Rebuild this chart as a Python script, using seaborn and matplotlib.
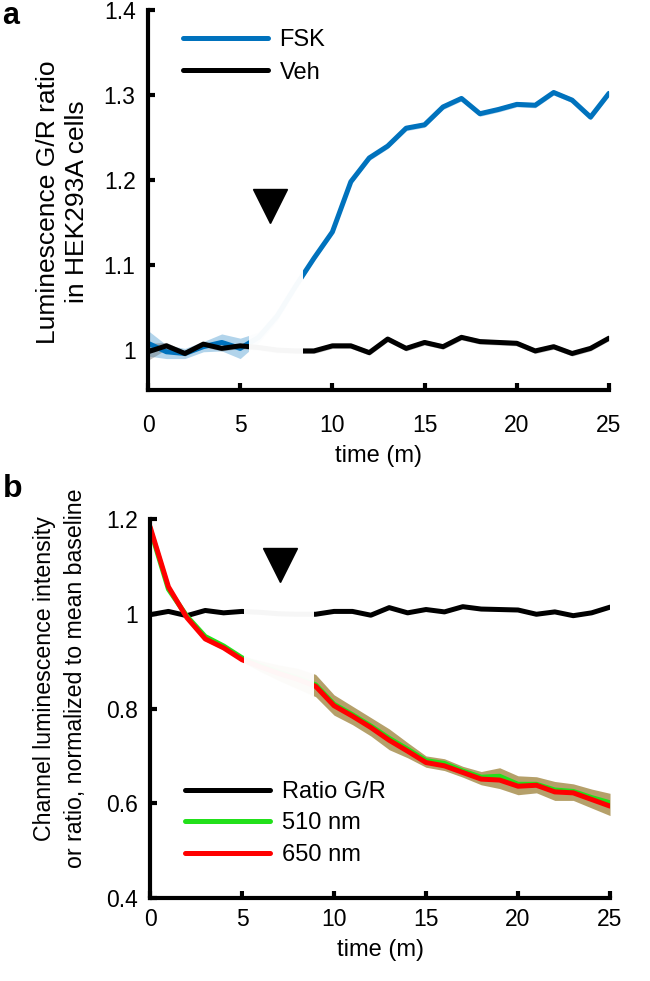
import numpy as np
import pandas as pd
import matplotlib
matplotlib.use("Agg")
import matplotlib.pyplot as plt
import seaborn as sns

# ---------------- data ----------------
time = list(range(0, 26))

fsk = [1.008, 0.998, 0.996, 1.004, 1.009, 1.002, 1.015, 1.040, 1.075, 1.108,
       1.139, 1.198, 1.226, 1.240, 1.261, 1.265, 1.286, 1.296, 1.278, 1.283,
       1.289, 1.288, 1.303, 1.294, 1.274, 1.302]
fsk_err = [0.015, 0.008, 0.006, 0.006, 0.010, 0.012, 0.006, 0.005, 0.004, 0.003,
           0.003, 0.003, 0.003, 0.003, 0.003, 0.003, 0.003, 0.003, 0.003, 0.003,
           0.003, 0.003, 0.003, 0.003, 0.003, 0.003]

veh = [0.998, 1.005, 0.996, 1.007, 1.002, 1.005, 1.003, 1.000, 0.999, 0.999,
       1.005, 1.005, 0.997, 1.013, 1.002, 1.009, 1.004, 1.015, 1.010, 1.009,
       1.008, 0.999, 1.004, 0.996, 1.002, 1.014]
veh_err = [0.010, 0.004, 0.003, 0.003, 0.003, 0.003, 0.003, 0.003, 0.003, 0.003,
           0.003, 0.003, 0.003, 0.003, 0.003, 0.003, 0.003, 0.003, 0.003, 0.003,
           0.003, 0.003, 0.003, 0.003, 0.003, 0.003]

nm510 = [1.180, 1.052, 0.995, 0.952, 0.932, 0.907, 0.891, 0.877, 0.865, 0.850,
         0.809, 0.787, 0.763, 0.737, 0.714, 0.690, 0.684, 0.668, 0.655, 0.657,
         0.640, 0.640, 0.628, 0.625, 0.612, 0.601]
nm650 = [1.184, 1.057, 0.992, 0.947, 0.928, 0.903, 0.888, 0.874, 0.862, 0.847,
         0.806, 0.784, 0.760, 0.733, 0.710, 0.686, 0.679, 0.665, 0.651, 0.649,
         0.636, 0.638, 0.624, 0.622, 0.608, 0.594]
nm_err = [0.004, 0.004, 0.004, 0.004, 0.004, 0.004, 0.010, 0.015, 0.020, 0.022,
          0.020, 0.018, 0.018, 0.020, 0.014, 0.010, 0.010, 0.010, 0.012, 0.018,
          0.018, 0.016, 0.018, 0.016, 0.018, 0.020]

gap_a = (5.5, 8.4)
gap_b = (5.1, 8.9)
stim_a = (6.6, 1.17)
stim_b = (7.07, 1.103)

xticks = [0, 5, 10, 15, 20, 25]
yticks_a = [1.0, 1.1, 1.2, 1.3, 1.4]
yticklabels_a = ["1", "1.1", "1.2", "1.3", "1.4"]
yticks_b = [0.4, 0.6, 0.8, 1.0, 1.2]
yticklabels_b = ["0.4", "0.6", "0.8", "1", "1.2"]

# ---------------- style ----------------
sns.set_style("ticks")
plt.rcParams["font.family"] = ["Liberation Sans", "DejaVu Sans"]
plt.rcParams.update({
    "axes.linewidth": 3.0,
    "axes.edgecolor": "black",
    "axes.labelcolor": "black",
    "text.color": "black",
    "xtick.color": "black",
    "ytick.color": "black",
})

C_BLUE = "#0072BD"
C_BLACK = "#000000"
C_GREEN = "#22E01A"
C_RED = "#FF0000"

fig = plt.figure(figsize=(6.5, 9.81), dpi=100)
ax_a = fig.add_axes([0.2277, 0.6024, 0.7092, 0.3874])
ax_b = fig.add_axes([0.2308, 0.0846, 0.7077, 0.3863])

# ---------------- panel a ----------------
df_a = pd.DataFrame({
    "time": time * 2,
    "value": fsk + veh,
    "cond": ["FSK"] * len(time) + ["Veh"] * len(time),
})
t = np.array(time)
ax_a.fill_between(t, np.array(fsk) - np.array(fsk_err), np.array(fsk) + np.array(fsk_err),
                  color=C_BLUE, alpha=0.3, lw=0, zorder=1)
ax_a.fill_between(t, np.array(veh) - np.array(veh_err), np.array(veh) + np.array(veh_err),
                  color="0.4", alpha=0.4, lw=0, zorder=1)
sns.lineplot(data=df_a, x="time", y="value", hue="cond", hue_order=["FSK", "Veh"],
             palette={"FSK": C_BLUE, "Veh": C_BLACK}, linewidth=3.6, ax=ax_a,
             errorbar=None, zorder=2)
ax_a.axvspan(gap_a[0], gap_a[1], color="white", alpha=0.97, lw=0, zorder=4)
ax_a.plot([stim_a[0]], [stim_a[1]], marker="v", color="black", markersize=25,
          linestyle="none", zorder=6, clip_on=False)

ax_a.set_xlim(0, 25)
ax_a.set_ylim(0.953, 1.4)
ax_a.set_xticks(xticks)
ax_a.set_xticklabels([str(x) for x in xticks])
ax_a.set_yticks(yticks_a)
ax_a.set_yticklabels(yticklabels_a)
ax_a.tick_params(axis="both", direction="in", length=5, width=3, labelsize=16.5)
ax_a.tick_params(axis="x", pad=17)
ax_a.tick_params(axis="y", pad=9)
ax_a.set_xlabel("time (m)", fontsize=17, labelpad=6)
ax_a.set_ylabel("Luminescence G/R ratio\nin HEK293A cells", fontsize=19, linespacing=1.26)
ax_a.yaxis.set_label_coords(-0.128, 0.495)
sns.despine(ax=ax_a)
for sp in ax_a.spines.values():
    sp.set_zorder(8)
h, l = ax_a.get_legend_handles_labels()
ax_a.legend(h, l, loc="upper left", bbox_to_anchor=(0.055, 0.975), frameon=False,
            fontsize=17, handlelength=3.6, handletextpad=0.5, labelspacing=0.45,
            borderaxespad=0)

# ---------------- panel b ----------------
df_b = pd.DataFrame({
    "time": time * 3,
    "value": veh + nm510 + nm650,
    "series": ["Ratio G/R"] * len(time) + ["510 nm"] * len(time) + ["650 nm"] * len(time),
})
ax_b.fill_between(t, np.array(nm650) - np.array(nm_err), np.array(nm510) + np.array(nm_err),
                  color="#A89050", alpha=0.85, lw=0, zorder=1)
sns.lineplot(data=df_b, x="time", y="value", hue="series",
             hue_order=["Ratio G/R", "510 nm", "650 nm"],
             palette={"Ratio G/R": C_BLACK, "510 nm": C_GREEN, "650 nm": C_RED},
             linewidth=3.6, ax=ax_b, errorbar=None, zorder=2)
ax_b.axvspan(gap_b[0], gap_b[1], color="white", alpha=0.97, lw=0, zorder=4)
ax_b.plot([stim_b[0]], [stim_b[1]], marker="v", color="black", markersize=25,
          linestyle="none", zorder=6, clip_on=False)

ax_b.set_xlim(0, 25)
ax_b.set_ylim(0.4, 1.2)
ax_b.set_xticks(xticks)
ax_b.set_xticklabels([str(x) for x in xticks])
ax_b.set_yticks(yticks_b)
ax_b.set_yticklabels(yticklabels_b)
ax_b.tick_params(axis="both", direction="in", length=5, width=3, labelsize=16.5)
ax_b.tick_params(axis="x", pad=7)
ax_b.tick_params(axis="y", pad=9)
ax_b.set_xlabel("time (m)", fontsize=17, labelpad=6)
ax_b.set_ylabel("Channel luminescence intensity\nor ratio, normalized to mean baseline",
                fontsize=16.7, linespacing=1.42)
ax_b.yaxis.set_label_coords(-0.137, 0.58)
sns.despine(ax=ax_b)
for sp in ax_b.spines.values():
    sp.set_zorder(8)
h, l = ax_b.get_legend_handles_labels()
ax_b.legend(h, l, loc="lower left", bbox_to_anchor=(0.055, 0.06), frameon=False,
            fontsize=17, handlelength=3.6, handletextpad=0.5, labelspacing=0.4,
            borderaxespad=0)

# panel letters
fig.text(0.004, 0.999, "a", fontsize=22, fontweight="bold", va="top", ha="left")
fig.text(0.004, 1 - 497 / 981, "b", fontsize=23, fontweight="bold", va="baseline", ha="left")

fig.savefig("out.png", dpi=100)
